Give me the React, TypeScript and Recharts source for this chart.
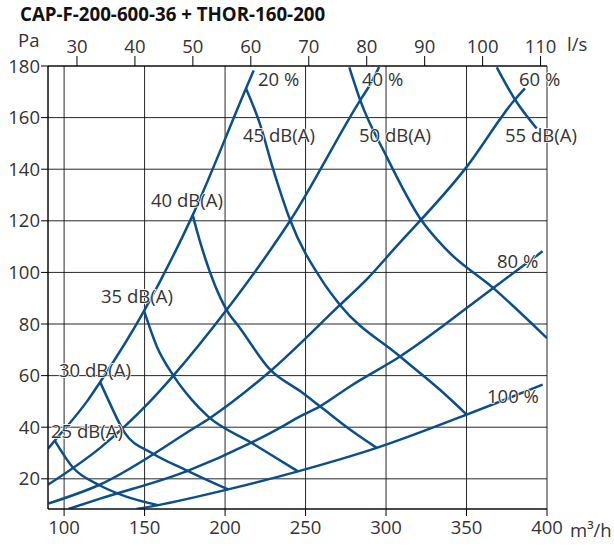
import { LineChart, Line, XAxis, YAxis, CartesianGrid } from 'recharts';

// damper position curves (pressure drop vs airflow), q in m3/h, p in Pa
const damper20 = [
  { q: 90, p: 31.7 }, { q: 94.2, p: 34.8 }, { q: 114.9, p: 50.6 }, { q: 122.4, p: 57.5 },
  { q: 149.7, p: 85.1 }, { q: 179.9, p: 122.2 }, { q: 213, p: 171.3 }, { q: 217.8, p: 178.3 },
];
const damper40 = [
  { q: 90.2, p: 17.8 }, { q: 122.4, p: 32 }, { q: 153.4, p: 50 }, { q: 167.9, p: 60 },
  { q: 201, p: 85.5 }, { q: 223.8, p: 104.8 }, { q: 240.4, p: 120 }, { q: 283.9, p: 166.7 },
  { q: 290.1, p: 172.8 }, { q: 295.7, p: 179.6 },
];
const damper60 = [
  { q: 90.2, p: 10.4 }, { q: 122.4, p: 17.8 }, { q: 179.3, p: 39.1 }, { q: 190.7, p: 43.6 },
  { q: 227.9, p: 61.6 }, { q: 271.4, p: 87.4 }, { q: 288, p: 97.3 }, { q: 304.5, p: 108.7 },
  { q: 350.1, p: 140.9 }, { q: 380.1, p: 167 }, { q: 386.3, p: 171.3 },
];
const damper80 = [
  { q: 102.7, p: 8.3 }, { q: 122.4, p: 12.3 }, { q: 176, p: 22.9 }, { q: 216.3, p: 34 },
  { q: 232.1, p: 39.1 }, { q: 246.6, p: 44.2 }, { q: 259, p: 48.1 }, { q: 277.6, p: 55.8 },
  { q: 308.7, p: 67.4 }, { q: 365.6, p: 93.5 }, { q: 397.3, p: 108.2 },
];
const damper100 = [
  { q: 145, p: 8.3 }, { q: 158.4, p: 9.8 }, { q: 201.9, p: 15.9 }, { q: 245.3, p: 22.9 },
  { q: 294.2, p: 32 }, { q: 350.1, p: 44.9 }, { q: 397.3, p: 56.5 },
];

// sound level curves
const db25 = [
  { q: 94.2, p: 34.8 }, { q: 105.6, p: 24.3 }, { q: 121.1, p: 17.8 }, { q: 137.7, p: 13.3 }, { q: 158.4, p: 9.8 },
];
const db30 = [
  { q: 122.4, p: 57.5 }, { q: 127.3, p: 50.8 }, { q: 137.7, p: 37.8 }, { q: 154.2, p: 30.1 },
  { q: 175, p: 23.6 }, { q: 201.9, p: 15.9 },
];
const db35 = [
  { q: 149.7, p: 85.1 }, { q: 157.6, p: 71.3 }, { q: 167.9, p: 60 }, { q: 179.1, p: 50.8 },
  { q: 189.4, p: 44.2 }, { q: 216.3, p: 34 }, { q: 245.3, p: 22.9 },
];
const db40 = [
  { q: 179.9, p: 122.2 }, { q: 182.4, p: 116.4 }, { q: 201, p: 85.4 }, { q: 209.3, p: 78.4 },
  { q: 228, p: 62.3 }, { q: 246.6, p: 54 }, { q: 259, p: 48.1 }, { q: 277.6, p: 39.1 }, { q: 294.2, p: 32 },
];
const db45 = [
  { q: 213, p: 171.3 }, { q: 221.7, p: 157.5 }, { q: 230, p: 139.7 }, { q: 240.4, p: 120.3 },
  { q: 260, p: 97.1 }, { q: 271.4, p: 87.4 }, { q: 308.7, p: 67.4 }, { q: 333.5, p: 54.5 }, { q: 350.1, p: 44.9 },
];
const db50 = [
  { q: 277.2, p: 179.5 }, { q: 284, p: 166.7 }, { q: 300.4, p: 144.8 }, { q: 321.1, p: 121 },
  { q: 337.7, p: 108.7 }, { q: 366.7, p: 93.9 }, { q: 400, p: 74.5 },
];
const db55 = [{ q: 368.8, p: 179.5 }, { q: 380.1, p: 167 }, { q: 393.6, p: 155.8 }];

const flowTicks = [100, 150, 200, 250, 300, 350, 400];
const litreTicks = [30, 40, 50, 60, 70, 80, 90, 100, 110];
const paTicks = [20, 40, 60, 80, 100, 120, 140, 160, 180];

const curves = [damper20, damper40, damper60, damper80, damper100, db25, db30, db35, db40, db45, db50, db55];

const FONT = "'Open Sans', sans-serif";
const BLUE = '#0b4f8a';
const tickStyle = { fill: '#333', fontSize: 18.5, fontFamily: FONT };

const labels = [
  { t: '20 %', x: 258, y: 86 },
  { t: '40 %', x: 362, y: 86 },
  { t: '60 %', x: 519, y: 86 },
  { t: '45 dB(A)', x: 243, y: 142 },
  { t: '50 dB(A)', x: 359, y: 142 },
  { t: '55 dB(A)', x: 505, y: 142 },
  { t: '40 dB(A)', x: 151, y: 207 },
  { t: '80 %', x: 497, y: 268 },
  { t: '35 dB(A)', x: 101, y: 303 },
  { t: '30 dB(A)', x: 59, y: 377 },
  { t: '100 %', x: 487, y: 403 },
  { t: '25 dB(A)', x: 51, y: 438 },
];

export default function App() {
  return (
    <div style={{ position: 'absolute', left: 0, top: 0, width: 614, height: 546, background: '#fff' }}>
      <LineChart width={614} height={546} margin={{ top: 36, right: 67, bottom: 7, left: 8 }}>
        <CartesianGrid xAxisId="q" yAxisId="p" stroke="#111" strokeOpacity={0.9} />
        <XAxis
          xAxisId="q" dataKey="q" type="number" domain={[90, 400]} ticks={flowTicks}
          allowDataOverflow interval={0} height={30} tickSize={7} tickMargin={5}
          tick={tickStyle} axisLine={{ stroke: '#000' }} tickLine={{ stroke: '#000' }}
        />
        <XAxis
          xAxisId="ls" dataKey="q" type="number" orientation="top" domain={[90, 400]}
          ticks={litreTicks.map(v => v * 3.6)} tickFormatter={v => String(Math.round(v / 3.6))}
          allowDataOverflow interval={0} height={30} tickSize={10} tickMargin={3}
          tick={tickStyle} axisLine={{ stroke: '#000' }} tickLine={{ stroke: '#000' }}
        />
        <YAxis
          yAxisId="p" type="number" domain={[8.3, 180]} ticks={paTicks} allowDataOverflow
          interval={0} width={40} tickSize={7} tickMargin={1}
          tick={tickStyle} axisLine={{ stroke: '#000' }} tickLine={{ stroke: '#000' }}
        />
        {curves.map((c, i) => (
          <Line
            key={i} xAxisId="q" yAxisId="p" data={c} dataKey="p" type="monotone"
            stroke={BLUE} strokeWidth={2.5} dot={false} isAnimationActive={false}
          />
        ))}
      </LineChart>
      <svg width={614} height={546} style={{ position: 'absolute', left: 0, top: 0, pointerEvents: 'none' }}>
        <text x={20} y={21} fontFamily={FONT} fontWeight="bold" fontSize={18.7} fill="#111">
          CAP-F-200-600-36 + THOR-160-200
        </text>
        <text x={18} y={47} fontFamily={FONT} fontSize={18.5} fill="#333">Pa</text>
        <text x={567} y={51} fontFamily={FONT} fontSize={18.5} fill="#333">l/s</text>
        <text x={570} y={537} fontFamily={FONT} fontSize={18.5} fill="#333">m³/h</text>
        {labels.map(l => (
          <text key={l.t} x={l.x} y={l.y} fontFamily={FONT} fontSize={18.5} fill="#333"
            stroke="#fff" strokeWidth={1.5} paintOrder="stroke">
            {l.t}
          </text>
        ))}
      </svg>
    </div>
  );
}
